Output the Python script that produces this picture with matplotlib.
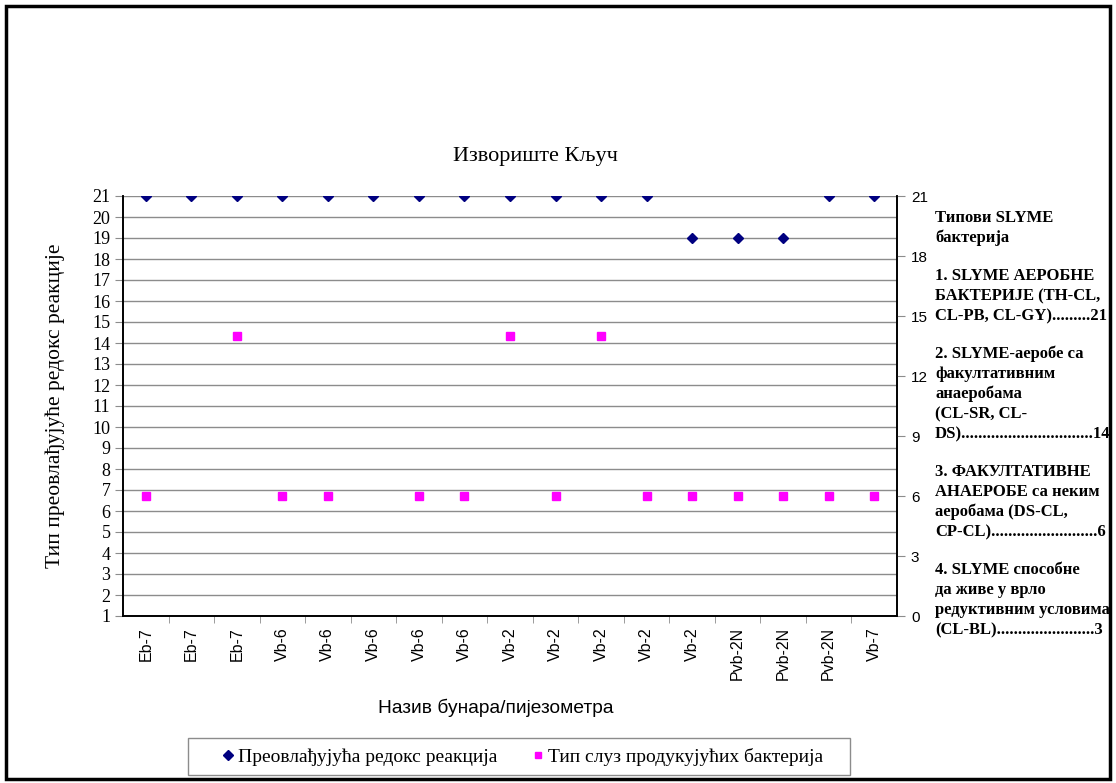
import numpy as np
import matplotlib.pyplot as plt
from matplotlib.lines import Line2D
from matplotlib.patches import Rectangle

# =========================
# Data
# =========================
wells = ["Eb-7", "Eb-7", "Eb-7", "Vb-6", "Vb-6", "Vb-6", "Vb-6", "Vb-6", "Vb-2",
         "Vb-2", "Vb-2", "Vb-2", "Vb-2", "Pvb-2N", "Pvb-2N", "Pvb-2N", "Vb-7"]
redox = [21, 21, 21, 21, 21, 21, 21, 21, 21, 21, 21, 21, 19, 19, 19, 21, 21]
slime = [6, np.nan, 14, 6, 6, np.nan, 6, 6, 14, 6, 14, 6, 6, 6, 6, 6, 6]

left_ticks = list(range(1, 22))
right_ticks = list(range(0, 22, 3))

legend_labels = ["Преовлађујућа редокс реакција", "Тип слуз продукујућих бактерија"]

side_text = [
    ["Типови SLYME", "бактерија"],
    ["1. SLYME АЕРОБНЕ", "БАКТЕРИЈЕ (TH-CL,", "CL-PB, CL-GY).........21"],
    ["2. SLYME-аеробе са", "факултативним", "анаеробама", "(CL-SR, CL-",
     "DS)...............................14"],
    ["3. ФАКУЛТАТИВНЕ", "АНАЕРОБЕ са неким", "аеробама (DS-CL,",
     "CP-CL).........................6"],
    ["4. SLYME способне", "да живе у врло", "редуктивним условима",
     "(CL-BL).......................3"],
]

SERIF = "Liberation Serif"
SANS = "Liberation Sans"

W, H = 1116, 783
fig = plt.figure(figsize=(W / 100, H / 100), dpi=100)
ax = fig.add_axes([123 / W, 1 - 616 / H, (897 - 123) / W, (616 - 196) / H])
ax2 = ax.twinx()

x = np.arange(len(wells))

# grid
for v in left_ticks:
    ax.axhline(v, color="#8c8c8c", lw=1.0, zorder=0)

ax.plot(x, redox, linestyle="none", marker="D", color="#000080",
        markersize=5.5, zorder=3)
ax2.plot(x, slime, linestyle="none", marker="s", color="#ff00ff",
         markersize=6, zorder=3)

ax.set_xlim(-0.5, len(wells) - 0.5)
ax.set_ylim(1, 21)
ax2.set_ylim(0, 21)

ax.set_yticks(left_ticks)
ax.set_yticklabels([str(v) for v in left_ticks], fontfamily=SERIF, fontsize=13)
ax2.set_yticks(right_ticks)
ax2.set_yticklabels([str(v) for v in right_ticks], fontfamily=SANS, fontsize=11)

ax.set_xticks(x)
ax.set_xticklabels(wells, rotation=90, fontfamily=SANS, fontsize=11.5)
ax.set_xticks(x[:-1] + 0.5, minor=True)
ax.tick_params(axis="x", which="major", length=0, pad=8)
ax.tick_params(axis="x", which="minor", length=5, color="#8c8c8c")
ax.tick_params(axis="y", length=6, color="#8c8c8c", pad=3)
ax2.tick_params(axis="y", length=6, color="#8c8c8c", pad=4)

for a in (ax, ax2):
    a.spines["top"].set_visible(False)
    for s in ("left", "right", "bottom"):
        a.spines[s].set_color("black")
        a.spines[s].set_linewidth(1.2)

ax.set_ylabel("Тип преовлађујуће редокс реакције", fontfamily=SERIF, fontsize=15.5)
ax.yaxis.set_label_coords(-0.075, 0.5)

fig.text(496 / W, 1 - 708 / H, "Назив бунара/пијезометра", fontfamily=SANS,
         fontsize=13.8, ha="center", va="center")
fig.text(535 / W, 1 - 157 / H, "Извориште Кључ", fontfamily=SERIF, fontsize=16,
         ha="center", va="center")

# right-hand text block
y = 218
for block in side_text:
    for line in block:
        fig.text(935 / W, 1 - y / H, line, fontfamily=SERIF, fontweight="bold",
                 fontsize=12, ha="left", va="center")
        y += 20
    y += 18

# legend (entries without frame, box drawn separately to get the wide padding)
handles = [
    Line2D([], [], linestyle="none", marker="D", color="#000080", markersize=5),
    Line2D([], [], linestyle="none", marker="s", color="#ff00ff", markersize=5),
]
fig.legend(handles, legend_labels, loc="center", ncol=2,
           bbox_to_anchor=(521 / W, 1 - 757 / H), frameon=False,
           prop={"family": SERIF, "size": 14},
           handletextpad=0.0, columnspacing=1.6, handlelength=1.0)
fig.patches.append(Rectangle((188 / W, 1 - 775 / H), 662 / W, 37 / H,
                             transform=fig.transFigure, fill=False,
                             edgecolor="#8c8c8c", linewidth=1.0))

# outer border
fig.patches.append(Rectangle((6 / W, 4 / H), 1104 / W, 773 / H, transform=fig.transFigure,
                             fill=False, edgecolor="black", linewidth=2.5))

fig.savefig("out.png", dpi=100)
